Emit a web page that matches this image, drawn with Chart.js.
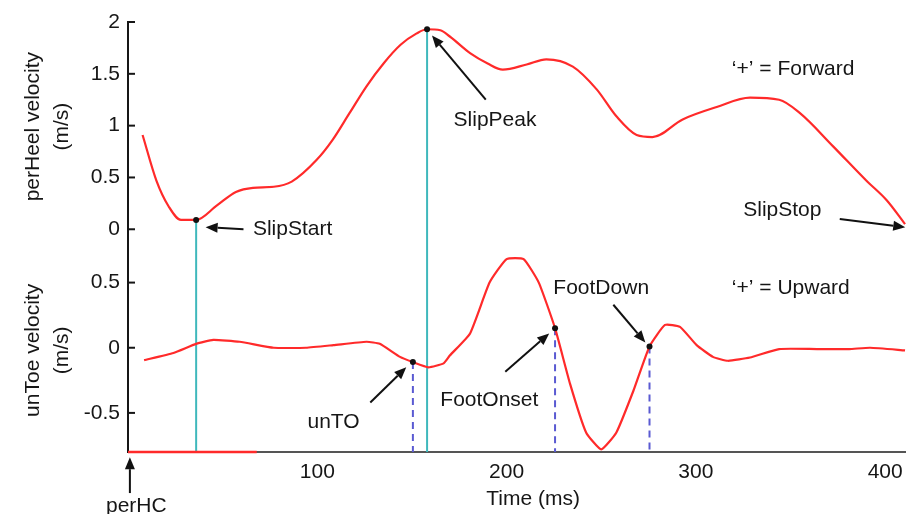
<!DOCTYPE html>
<html>
<head>
<meta charset="utf-8">
<title>Heel and toe velocity</title>
<script src="https://cdn.jsdelivr.net/npm/chart.js@4.4.1/dist/chart.umd.min.js"></script>
<style>
  html, body { margin: 0; padding: 0; background: #fff; }
  #wrap { position: relative; width: 906px; height: 514px; }
</style>
</head>
<body>
<div id="wrap"><canvas id="chart" width="906" height="514"></canvas></div>
<script>
// perpendicular heel velocity (m/s) over time (ms)
const heelTimes = [7.7, 15, 21.5, 28, 36, 47, 57, 66, 77, 86.5, 99.7, 108, 117, 126, 135, 144, 152.5, 158, 165, 170,
  180.7, 190, 198, 210.6, 221, 235, 247.6, 258, 268.7, 277, 293, 311, 328.6, 344, 355, 372.5, 390, 400.8, 410.5];
const heelValues = [0.91, 0.47, 0.22, 0.09, 0.09, 0.23, 0.36, 0.40, 0.41, 0.46, 0.67, 0.86, 1.12, 1.38, 1.6, 1.78, 1.89, 1.93, 1.92, 1.86,
  1.70, 1.6, 1.54, 1.59, 1.64, 1.57, 1.35, 1.09, 0.91, 0.89, 1.06, 1.18, 1.27, 1.25, 1.12, 0.80, 0.47, 0.28, 0.05];

// unperturbed toe vertical velocity (m/s)
const toeTimes = [8.5, 24, 36, 45, 59, 77, 94, 108.5, 126, 133, 143.7, 150.5, 158.7, 166.7, 170, 180.7, 191, 200, 209, 217,
  225.6, 233.5, 242, 250, 258, 267, 275.5, 283.7, 291.6, 300.4, 309, 317, 328.6, 344, 364, 381, 392, 410.5];
const toeValues = [-0.095, -0.04, 0.03, 0.06, 0.046, 0, 0, 0.02, 0.046, 0.03, -0.07, -0.11, -0.15, -0.12, -0.06, 0.11, 0.50, 0.68, 0.68, 0.50,
  0.15, -0.275, -0.65, -0.78, -0.65, -0.33, 0.01, 0.175, 0.16, 0.02, -0.07, -0.10, -0.075, -0.01, -0.01, -0.01, 0, -0.02];

// slip events (heel): SlipStart, SlipPeak
const slipTimes = [36, 158];
const slipValues = [0.09, 1.93];
// toe events: unTO, FootOnset, FootDown
const toeEventTimes = [150.5, 225.6, 275.5];
const toeEventValues = [-0.11, 0.15, 0.01];
// red trace lying along the time axis from perHC
const baseTimes = [0, 68];

const timeTicks = [100, 200, 300, 400];
const heelTicks = [0, 0.5, 1, 1.5, 2];
const toeTicks = [-0.5, 0, 0.5];

const HEEL_MIN = -0.2, HEEL_MAX = 2;
const TOE_MIN = -0.8, TOE_MAX = 0.75;

const RED = '#ff2a2a';
const TEAL = '#3fb8bc';
const BLUE = '#5a5ad2';
const INK = '#161616';
const FONT = '"Liberation Sans", Arial, Helvetica, sans-serif';

const zip = (xs, ys) => xs.map((x, i) => ({ x: x, y: ys[i] }));

// text labels with optional arrows, in data units of the given axis
const notes = [
  { text: 'SlipStart', axis: 'yTop', at: [66, 0], arrow: [[61, 0], [41, 0.02]] },
  { text: 'SlipPeak', axis: 'yTop', at: [172, 1.055], arrow: [[189, 1.25], [160.6, 1.87]] },
  { text: '\u2018+\u2019 = Forward', axis: 'yTop', at: [319, 1.54] },
  { text: 'SlipStop', axis: 'yTop', at: [325, 0.18], arrow: [[376, 0.10], [410.6, 0.02]] },
  { text: '\u2018+\u2019 = Upward', axis: 'yBot', at: [319, 0.46] },
  { text: 'FootDown', axis: 'yBot', at: [224.7, 0.46], arrow: [[256.4, 0.33], [273.3, 0.04]] },
  { text: 'FootOnset', axis: 'yBot', at: [165, -0.40], arrow: [[199.3, -0.185], [222.5, 0.11]] },
  { text: 'unTO', axis: 'yBot', at: [94.8, -0.575], arrow: [[128, -0.42], [147, -0.15]] },
  { text: 'perHC', axis: 'yBot', at: [4.4, -1.215], align: 'center', arrow: [[1, -1.115], [1, -0.84]] },
  { text: 'Time (ms)', axis: 'yBot', at: [214, -1.16], align: 'center' }
];

const datasets = [];

// event dots
datasets.push({
  data: zip(slipTimes, slipValues), yAxisID: 'yTop', showLine: false,
  pointRadius: 3, pointBackgroundColor: '#111', pointBorderWidth: 0, clip: false
});
datasets.push({
  data: zip(toeEventTimes, toeEventValues), yAxisID: 'yBot', showLine: false,
  pointRadius: 3, pointBackgroundColor: '#111', pointBorderWidth: 0, clip: false
});

datasets.push({
  data: zip(heelTimes, heelValues), yAxisID: 'yTop',
  borderColor: RED, borderWidth: 2.2, pointRadius: 0, cubicInterpolationMode: 'monotone'
});
datasets.push({
  data: zip(toeTimes, toeValues), yAxisID: 'yBot',
  borderColor: RED, borderWidth: 2.2, pointRadius: 0, tension: 0.15
});
datasets.push({
  data: baseTimes.map(t => ({ x: t, y: TOE_MIN })), yAxisID: 'yBot',
  borderColor: RED, borderWidth: 2.5, pointRadius: 0, clip: false
});

// slip markers run from the heel trace down through the toe panel
slipTimes.forEach((t, i) => {
  datasets.push({
    data: [{ x: t, y: slipValues[i] }, { x: t, y: HEEL_MIN }], yAxisID: 'yTop',
    borderColor: TEAL, borderWidth: 2, pointRadius: 0
  });
  datasets.push({
    data: [{ x: t, y: TOE_MAX }, { x: t, y: TOE_MIN }], yAxisID: 'yBot',
    borderColor: TEAL, borderWidth: 2, pointRadius: 0
  });
});

// toe events get dashed drop lines
toeEventTimes.forEach((t, i) => {
  datasets.push({
    data: [{ x: t, y: toeEventValues[i] }, { x: t, y: TOE_MIN }], yAxisID: 'yBot',
    borderColor: BLUE, borderWidth: 2, borderDash: [7, 5], pointRadius: 0
  });
});

function drawArrow(ctx, x0, y0, x1, y1) {
  const ang = Math.atan2(y1 - y0, x1 - x0);
  const len = 12, half = 5;
  const bx = x1 - len * Math.cos(ang), by = y1 - len * Math.sin(ang);
  ctx.beginPath();
  ctx.moveTo(x0, y0);
  ctx.lineTo(bx, by);
  ctx.stroke();
  ctx.beginPath();
  ctx.moveTo(x1, y1);
  ctx.lineTo(bx + half * Math.sin(ang), by - half * Math.cos(ang));
  ctx.lineTo(bx - half * Math.sin(ang), by + half * Math.cos(ang));
  ctx.closePath();
  ctx.fill();
}

const decorations = {
  id: 'decorations',
  afterDraw(chart) {
    const ctx = chart.ctx;
    const xs = chart.scales.x;
    const area = chart.chartArea;
    ctx.save();

    // inward tick marks on both velocity axes
    ctx.strokeStyle = INK;
    ctx.lineWidth = 2;
    ['yTop', 'yBot'].forEach(id => {
      const s = chart.scales[id];
      s.ticks.forEach(tk => {
        const y = s.getPixelForValue(tk.value);
        ctx.beginPath();
        ctx.moveTo(area.left, y);
        ctx.lineTo(area.left + 7, y);
        ctx.stroke();
      });
    });

    // axis titles, two lines each
    ctx.fillStyle = INK;
    ctx.font = '21px ' + FONT;
    ctx.textAlign = 'center';
    ctx.textBaseline = 'middle';
    [['yTop', 0.99, 'perHeel velocity'], ['yBot', -0.02, 'unToe velocity']].forEach(([id, v, name]) => {
      const y = chart.scales[id].getPixelForValue(v);
      [[33, name], [62, '(m/s)']].forEach(([x, line]) => {
        ctx.save();
        ctx.translate(x, y);
        ctx.rotate(-Math.PI / 2);
        ctx.fillText(line, 0, 0);
        ctx.restore();
      });
    });

    // labels and arrows
    ctx.lineWidth = 2;
    ctx.strokeStyle = '#111';
    notes.forEach(n => {
      const ys = chart.scales[n.axis];
      ctx.textAlign = n.align || 'left';
      ctx.fillStyle = INK;
      ctx.fillText(n.text, xs.getPixelForValue(n.at[0]), ys.getPixelForValue(n.at[1]));
      if (n.arrow) {
        const [from, to] = n.arrow;
        ctx.fillStyle = '#111';
        drawArrow(ctx,
          xs.getPixelForValue(from[0]), ys.getPixelForValue(from[1]),
          xs.getPixelForValue(to[0]), ys.getPixelForValue(to[1]));
      }
    });
    ctx.restore();
  }
};

const tickFont = { family: FONT, size: 21 };

new Chart(document.getElementById('chart'), {
  type: 'line',
  data: { datasets: datasets },
  options: {
    responsive: false,
    animation: false,
    devicePixelRatio: 1,
    layout: { autoPadding: false, padding: { top: 22, right: 0, left: 0, bottom: 0 } },
    plugins: { legend: { display: false }, tooltip: { enabled: false } },
    scales: {
      x: {
        type: 'linear', min: 0, max: 411,
        afterBuildTicks: s => { s.ticks = timeTicks.map(v => ({ value: v })); },
        afterFit: s => { s.height = 62; s.paddingLeft = 0; s.paddingRight = 0; },
        grid: { display: false, drawTicks: false },
        border: { color: '#555', width: 2 },
        ticks: { font: tickFont, color: INK, padding: 8, maxRotation: 0, callback: v => String(v) }
      },
      yBot: {
        type: 'linear', position: 'left', stack: 'panels', stackWeight: 202, weight: 0,
        min: TOE_MIN, max: TOE_MAX,
        afterBuildTicks: s => { s.ticks = toeTicks.map(v => ({ value: v })); },
        afterFit: s => { s.width = 128; },
        grid: { display: false, drawTicks: false },
        border: { color: INK, width: 2 },
        ticks: { font: tickFont, color: INK, padding: 8, callback: v => String(v) }
      },
      yTop: {
        type: 'linear', position: 'left', stack: 'panels', stackWeight: 228, weight: 1,
        min: HEEL_MIN, max: HEEL_MAX,
        afterBuildTicks: s => { s.ticks = heelTicks.map(v => ({ value: v })); },
        afterFit: s => { s.width = 128; },
        grid: { display: false, drawTicks: false },
        border: { color: INK, width: 2 },
        ticks: { font: tickFont, color: INK, padding: 8, callback: v => String(v) }
      }
    }
  },
  plugins: [decorations]
});
</script>
</body>
</html>
